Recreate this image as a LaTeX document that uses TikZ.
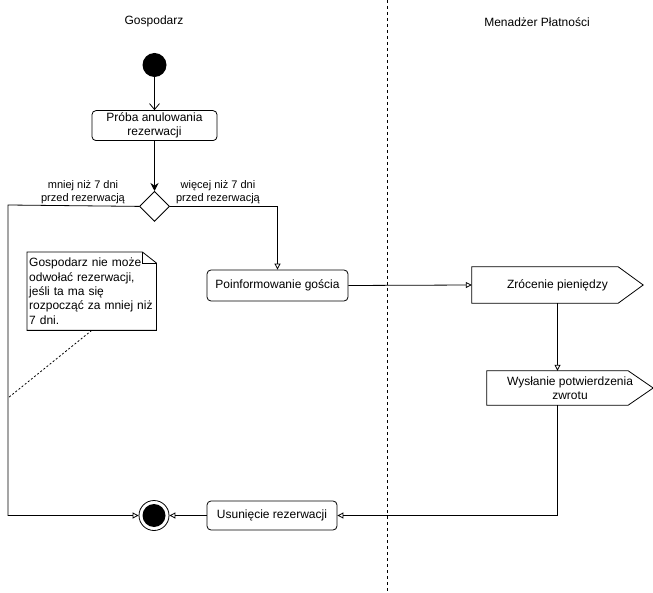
\documentclass[tikz,border=0pt]{standalone}
\usepackage{fontspec}
\setmainfont{Liberation Sans}
\usetikzlibrary{shapes.geometric, arrows.meta, positioning, calc}

\begin{document}
\begin{tikzpicture}[
    x=1pt, y=-1pt,
    font=\fontsize{12}{14.4}\selectfont,
    >={Triangle[open, length=6pt, width=6pt]},
    base/.style={draw, align=center, line width=0.8pt, inner sep=2pt},
    action/.style={base, rectangle, rounded corners=4pt, minimum height=30pt},
    send/.style={align=center, inner sep=2pt, minimum height=36pt},
    choice/.style={base, diamond, minimum width=30pt, minimum height=30pt, inner sep=0pt},
    startnode/.style={circle, fill=black, minimum size=24pt, inner sep=0pt},
    endnode/.style={circle, draw, line width=0.8pt, fill=white, minimum size=30pt, inner sep=0pt,
      path picture={\fill[black] (path picture bounding box.center) circle (11.5pt);}},
    note/.style={align=left, text width=125pt, inner sep=2pt, minimum height=78pt, anchor=north west},
    lane/.style={font=\fontsize{12}{14}\selectfont},
    guard/.style={font=\fontsize{11}{13}\selectfont, align=center},
    arrow/.style={->, line width=0.8pt}
  ]
    \useasboundingbox (0,0) rectangle (653,593);
    % swimlanes
    \node[lane] (lhost) at (154,21) {Gospodarz};
    \node[lane] (lpay) at (537,22) {Menadżer Płatności};
    \coordinate (divtop) at (387,0);
    \coordinate (divbot) at (387,593);
    \draw[line width=0.8pt, dash pattern=on 3pt off 3pt] (divtop) -- (divbot);
    % nodes
    \node[startnode] (start) at (154.5,65) {};
    \node[action, minimum width=125pt, below=33pt of start] (try) {Próba anulowania\\rezerwacji};
    \node[choice, below=50pt of try] (dec) {};
    \node[guard] (gless) at (83,192) {mniej niż 7 dni\\przed rezerwacją};
    \node[guard] (gmore) at (218,192) {więcej niż 7 dni\\przed rezerwacją};
    \node[action, minimum width=141pt, minimum height=31pt] (inform) at (277.5,285.5) {Poinformowanie gościa};
    \node[send, minimum width=171pt] (refund) at (557.5,285) {Zrócenie pieniędzy};
    \node[send, minimum width=166pt, minimum height=34pt] (confirm) at (570,388) {Wysłanie potwierdzenia\\zwrotu};
    \foreach \sig in {refund, confirm}
      \draw[line width=0.8pt] (\sig.north west) -- ($(\sig.north east)+(-25,0)$) -- (\sig.east)
        -- ($(\sig.south east)+(-25,0)$) -- (\sig.south west) -- cycle;
    \node[endnode] (stop) at (154,515.5) {};
    \node[action, minimum width=130pt, minimum height=29pt] (remove) at (272,515.5) {Usunięcie rezerwacji};
    \node[note] (memo) at (27,252) {Gospodarz nie może\\odwołać rezerwacji,\\jeśli ta ma się\\rozpocząć za mniej niż\\7 dni.};
    \draw[line width=0.8pt] (memo.north west) -- ($(memo.north east)+(-14,0)$) -- ($(memo.north east)+(0,11)$)
      -- (memo.south east) -- (memo.south west) -- cycle;
    \draw[line width=0.8pt] ($(memo.north east)+(-14,0)$) |- ($(memo.north east)+(0,11)$);
    % connectors
    \coordinate (lefttop) at (8,205);
    \coordinate (memolink) at (8,398);
    \draw[line width=0.8pt, -{Straight Barb[length=6pt, width=10pt]}] (start) -- (try);
    \draw[line width=0.8pt, -{Stealth[length=8pt, width=8pt]}] (try) -- (dec);
    \draw[arrow] (dec.west) -- (lefttop) |- (stop.west);
    \draw[arrow] (dec.east) -| (inform.north);
    \draw[arrow] (inform.east) -- (refund.west);
    \draw[arrow] (refund.south) -- (refund.south |- confirm.north);
    \draw[arrow] (confirm.south -| refund.south) |- (remove.east);
    \draw[arrow] (remove) -- (stop);
    \draw[line width=0.8pt, dash pattern=on 2pt off 2pt] (memo.south) -- (memolink);
\end{tikzpicture}
\end{document}
